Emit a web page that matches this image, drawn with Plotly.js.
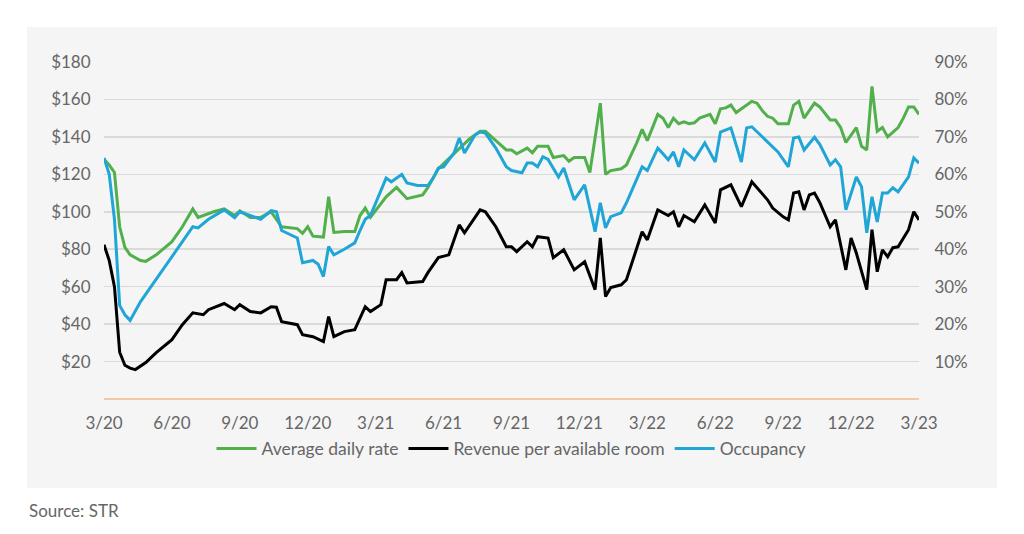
<!DOCTYPE html>
<html>
<head>
<meta charset="utf-8">
<script src="https://cdn.plot.ly/plotly-3.0.1.min.js"></script>
<style>
  html, body { margin: 0; padding: 0; background: #ffffff; }
  #chart { width: 1024px; height: 534px; }
</style>
</head>
<body>
<div id="chart"></div>
<script>
// Week index since start of March 2020 (13 weeks per quarter)
const tickWeeks = [0, 13, 26, 39, 52, 65, 78, 91, 104, 117, 130, 143, 156];
const tickLabels = ["3/20", "6/20", "9/20", "12/20", "3/21", "6/21", "9/21", "12/21", "3/22", "6/22", "9/22", "12/22", "3/23"];

// Average daily rate ($)
const adrWeeks = [0,1,2,3,4,5,7,8,10,13,15,17,18,21,23,25,26,28,30,32,34,37,38,39,40,42,43,44,46,48,49,50,51,54,56,58,61,62,64,67,70,72,73,75,77,78,79,81,82,83,85,86,88,89,90,92,93,95,96,97,99,100,102,103,104,106,107,108,109,110,111,112,113,114,116,117,118,119,120,121,122,124,125,126,127,128,129,131,132,133,134,135,136,137,139,140,141,142,143,144,145,146,147,148,149,150,152,153,154,155,156];
const adrValues = [128,125,121,92,81,77,74,73.5,77,84,92,101.5,97,100,101.5,98,100.5,97,97,100,92,91,88.5,92,87,86.5,108,89,89.5,89.5,98,102,97,108,113,107,109,113,123,131,139,143,143,138,133,133,131,134,131.5,135,135,129,130,127,129,129,121,158,120,122,123,125,137,144,138,152,150,145,150,147,148,147,147.5,150,152,147,155,155.5,157,153,155,159,158,154,151,150,147,147,157,159,150,154,158,156,149,149,145,137,141,145,135,133,167,143,145,140,145,150,156,156,152];

// Revenue per available room ($)
const revparWeeks = [0,1,2,3,4,5,6,8,10,13,15,17,19,20,23,25,26,28,30,32,33,34,37,38,40,42,43,44,46,48,50,51,53,54,56,57,58,61,62,64,66,68,69,72,73,75,77,78,79,81,82,83,85,86,88,90,92,94,95,96,97,99,100,103,104,106,108,109,110,111,113,114,115,117,118,120,122,124,125,127,128,130,131,132,133,134,135,136,137,139,140,142,143,144,146,147,148,149,150,151,152,154,155,156];
const revparValues = [82.4,74,60,25,18,16.5,15.7,19.5,24.8,31.7,39.7,46,45,47.7,51,47.7,50.4,46.7,46,49.3,49,41.3,39.7,34.4,33.3,30.7,44,33.3,36,37,49.3,46.7,50.4,63.7,63.7,67.5,62,62.7,67.5,75.5,77,93,88.8,101,100,92,81.3,81.3,78.7,84,81.3,86.7,86,75.5,79.7,69,73.3,58.4,86,54.7,59.5,61,63.7,89.3,85,101,98,100,92,98,94.7,99.5,103.7,94,111.7,114.4,102.7,116,112.8,106.4,102,97.3,95.7,110,110.7,101,109,110,105,92,95.7,69,86,78,58.4,90.4,68,79.7,76,80.8,81.3,90.4,100,95.7];

// Occupancy (%)
const occWeeks = [0,1,2,3,4,5,7,10,12,14,17,18,20,23,25,26,28,30,32,33,34,37,38,40,41,42,43,44,46,48,49,50,51,54,55,57,58,60,62,63,64,65,67,68,69,71,72,73,75,77,78,80,81,82,83,84,85,87,88,90,92,94,95,96,97,99,100,103,104,106,107,108,109,110,111,113,115,117,118,120,122,123,124,126,128,129,131,132,133,134,136,137,139,140,141,142,144,145,146,147,148,149,150,151,152,154,155,156];
const occValues = [64.4,60,48,25,22.5,21,26,32,36,40,46,45.7,48,50.5,48.4,50,49,48,50.3,50,45,43,36.4,37,36,32.7,40.7,38.5,40,41.7,45,48,49,59,58,60,57.7,57,57,59,61.7,62,65.7,69.7,65.7,70.5,71.3,71,67,62,61,60.4,63,63,62,64.7,64,59.3,61.7,53.2,57.2,44.7,52.4,45.7,48.7,49.7,52.4,62,61,67,65.5,63.9,66,62,66.5,63.9,68.4,63.3,71.3,72.4,63.3,72.4,72.7,70,67.3,66,62,69.7,70,66.5,69.9,68,62.5,63.9,62,50.5,59.3,56.7,44.4,54,47.3,55,55,56.4,55.3,59.3,64.4,63];

const dollarTicks = [20, 40, 60, 80, 100, 120, 140, 160, 180];
const dollarLabels = ["$20", "$40", "$60", "$80", "$100", "$120", "$140", "$160", "$180"];
const pctTicks = [10, 20, 30, 40, 50, 60, 70, 80, 90];
const pctLabels = ["10%", "20%", "30%", "40%", "50%", "60%", "70%", "80%", "90%"];

const FONT = "Lato, 'Open Sans', sans-serif";
const TXT = "#666666";

const traces = [
  { x: adrWeeks, y: adrValues, name: "Average daily rate", type: "scatter", mode: "lines",
    line: { color: "#51b04b", width: 3 }, yaxis: "y" },
  { x: revparWeeks, y: revparValues, name: "Revenue per available room", type: "scatter", mode: "lines",
    line: { color: "#000000", width: 3 }, yaxis: "y" },
  { x: occWeeks, y: occValues, name: "Occupancy", type: "scatter", mode: "lines",
    line: { color: "#1fa6d6", width: 3 }, yaxis: "y2" }
];

const layout = {
  width: 1024, height: 534,
  margin: { l: 104, r: 105, t: 62, b: 134.5, pad: 0 },
  paper_bgcolor: "#ffffff",
  plot_bgcolor: "rgba(0,0,0,0)",
  font: { family: FONT, color: TXT, size: 16 },
  showlegend: true,
  legend: { orientation: "h", x: 0.5, xanchor: "center", y: -0.147, yanchor: "middle",
            font: { family: FONT, size: 17.5, color: TXT }, bgcolor: "rgba(0,0,0,0)",
            itemwidth: 40, traceorder: "normal" },
  xaxis: { range: [0, 156], tickmode: "array", tickvals: tickWeeks, ticktext: tickLabels,
           showgrid: false, zeroline: false, showline: false,
           ticks: "outside", ticklen: 9, tickcolor: "rgba(0,0,0,0)",
           tickfont: { family: FONT, size: 17, color: TXT }, fixedrange: true },
  yaxis: { range: [0, 180], tickmode: "array", tickvals: dollarTicks, ticktext: dollarLabels,
           showgrid: true, gridcolor: "#dadada", gridwidth: 1.5,
           zeroline: true, zerolinecolor: "#f2c8a6", zerolinewidth: 2, showline: false,
           ticks: "outside", ticklen: 9, tickcolor: "rgba(0,0,0,0)",
           tickfont: { family: FONT, size: 17, color: TXT }, fixedrange: true },
  yaxis2: { range: [0, 90], overlaying: "y", side: "right", tickmode: "array",
            tickvals: pctTicks, ticktext: pctLabels, showgrid: false, zeroline: false, showline: false,
            ticks: "outside", ticklen: 11, tickcolor: "rgba(0,0,0,0)",
            tickfont: { family: FONT, size: 17, color: TXT }, fixedrange: true },
  shapes: [
    { type: "rect", xref: "paper", yref: "paper", x0: -0.0945, x1: 1.0957, y0: -0.2652, y1: 1.1037,
      fillcolor: "#f5f5f5", line: { width: 0 }, layer: "below" }
  ],
  annotations: [
    { text: "Source: STR", xref: "paper", yref: "paper", x: -0.0945, y: -0.330,
      xanchor: "left", yanchor: "middle", showarrow: false,
      font: { family: FONT, size: 17, color: TXT } }
  ]
};

Plotly.newPlot("chart", traces, layout, { displayModeBar: false, staticPlot: true });
</script>
</body>
</html>
